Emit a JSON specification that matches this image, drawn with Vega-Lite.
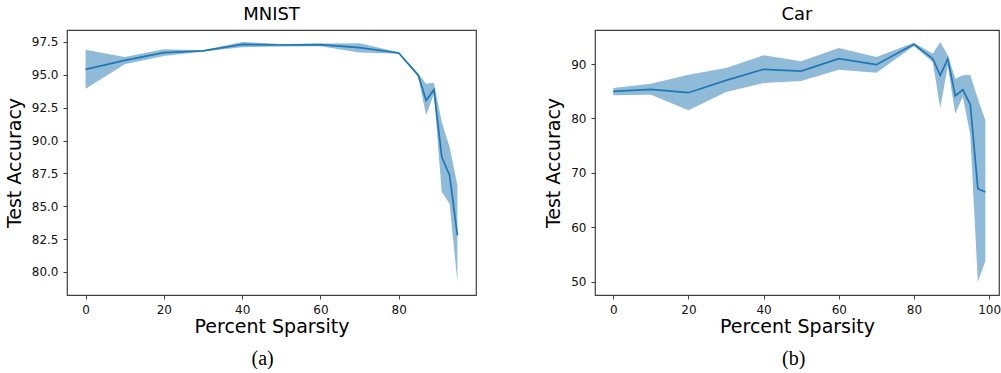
{
  "$schema": "https://vega.github.io/schema/vega-lite/v6.json",
  "padding": {"left": 4, "top": 5, "right": 0, "bottom": 0},
  "background": "white",
  "spacing": 67,
  "datasets": {
    "mnist": [
      {"x": 0, "mean": 95.42, "lo": 93.95, "hi": 96.9},
      {"x": 10, "mean": 96.1, "lo": 95.8, "hi": 96.36},
      {"x": 20, "mean": 96.69, "lo": 96.43, "hi": 96.94},
      {"x": 30, "mean": 96.82, "lo": 96.77, "hi": 96.87},
      {"x": 40, "mean": 97.32, "lo": 97.1, "hi": 97.5},
      {"x": 50, "mean": 97.27, "lo": 97.15, "hi": 97.35},
      {"x": 60, "mean": 97.3, "lo": 97.18, "hi": 97.38},
      {"x": 70, "mean": 97.07, "lo": 96.69, "hi": 97.4},
      {"x": 80, "mean": 96.66, "lo": 96.6, "hi": 96.72},
      {"x": 85, "mean": 94.97, "lo": 94.84, "hi": 95.09},
      {"x": 87, "mean": 93.06, "lo": 91.92, "hi": 94.33},
      {"x": 89, "mean": 93.87, "lo": 93.55, "hi": 94.4},
      {"x": 91, "mean": 88.75, "lo": 86.08, "hi": 91.41},
      {"x": 93, "mean": 87.36, "lo": 85.19, "hi": 89.51},
      {"x": 95, "mean": 82.79, "lo": 79.24, "hi": 86.59}
    ],
    "car": [
      {"x": 0, "mean": 84.98, "lo": 84.25, "hi": 85.59},
      {"x": 10, "mean": 85.35, "lo": 84.36, "hi": 86.38},
      {"x": 20, "mean": 84.73, "lo": 81.49, "hi": 88.03},
      {"x": 30, "mean": 87.0, "lo": 84.85, "hi": 89.26},
      {"x": 40, "mean": 89.03, "lo": 86.51, "hi": 91.6},
      {"x": 50, "mean": 88.71, "lo": 86.88, "hi": 90.49},
      {"x": 60, "mean": 90.98, "lo": 88.96, "hi": 92.94},
      {"x": 70, "mean": 89.88, "lo": 88.41, "hi": 91.29},
      {"x": 80, "mean": 93.62, "lo": 93.3, "hi": 93.9},
      {"x": 85, "mean": 90.98, "lo": 90.37, "hi": 91.9},
      {"x": 87, "mean": 87.92, "lo": 81.91, "hi": 94.04},
      {"x": 89, "mean": 90.98, "lo": 89.6, "hi": 91.6},
      {"x": 91, "mean": 84.12, "lo": 80.87, "hi": 87.3},
      {"x": 93, "mean": 85.28, "lo": 84.0, "hi": 87.92},
      {"x": 95, "mean": 82.53, "lo": 76.9, "hi": 88.0},
      {"x": 97, "mean": 67.09, "lo": 49.94, "hi": 83.6},
      {"x": 99, "mean": 66.48, "lo": 53.8, "hi": 79.65}
    ]
  },
  "config": {
    "font": "DejaVu Sans",
    "view": {"stroke": "#404040", "strokeWidth": 1.2},
    "axis": {
      "grid": false,
      "domain": false,
      "tickColor": "#404040",
      "tickSize": 4,
      "tickWidth": 1,
      "labelFont": "DejaVu Sans",
      "labelFontSize": 12,
      "labelColor": "#111111",
      "labelPadding": 5,
      "labelOverlap": false,
      "titleFont": "DejaVu Sans",
      "titleFontSize": 19,
      "titleFontWeight": "normal",
      "titleColor": "#000000"
    },
    "axisX": {"titlePadding": 2},
    "axisY": {"titlePadding": 7},
    "title": {"font": "DejaVu Sans", "fontSize": 18, "fontWeight": "normal", "color": "#000000", "offset": 6}
  },
  "hconcat": [
    {
      "title": {"text": "(a)", "orient": "bottom", "anchor": "middle", "frame": "bounds", "dx": 22, "font": "Liberation Serif", "fontSize": 20, "offset": 12},
      "vconcat": [
        {
          "title": {"text": "MNIST"},
          "width": 409,
          "height": 265,
          "data": {"name": "mnist"},
          "encoding": {
            "x": {"field": "x", "type": "quantitative", "title": "Percent Sparsity",
              "scale": {"domain": [-4.75, 99.75], "nice": false, "zero": false},
              "axis": {"values": [0, 20, 40, 60, 80]}}
          },
          "layer": [
            {
              "mark": {"type": "area", "color": "#1f77b4", "opacity": 0.5},
              "encoding": {
                "y": {"field": "lo", "type": "quantitative", "title": "Test Accuracy",
                  "scale": {"domain": [78.25, 98.41], "nice": false, "zero": false},
                  "axis": {"values": [80, 82.5, 85, 87.5, 90, 92.5, 95, 97.5], "format": ".1f"}},
                "y2": {"field": "hi"}
              }
            },
            {
              "mark": {"type": "line", "color": "#1f77b4", "strokeWidth": 1.7},
              "encoding": {"y": {"field": "mean", "type": "quantitative", "title": "Test Accuracy",
                  "axis": {"values": [80, 82.5, 85, 87.5, 90, 92.5, 95, 97.5], "format": ".1f"}}}
            }
          ]
        }
      ]
    },
    {
      "title": {"text": "(b)", "orient": "bottom", "anchor": "middle", "frame": "bounds", "dx": 21, "font": "Liberation Serif", "fontSize": 20, "offset": 12},
      "vconcat": [
        {
          "title": {"text": "Car"},
          "width": 404,
          "height": 265,
          "data": {"name": "car"},
          "encoding": {
            "x": {"field": "x", "type": "quantitative", "title": "Percent Sparsity",
              "scale": {"domain": [-4.87, 102.63], "nice": false, "zero": false},
              "axis": {"values": [0, 20, 40, 60, 80, 100]}}
          },
          "layer": [
            {
              "mark": {"type": "area", "color": "#1f77b4", "opacity": 0.5},
              "encoding": {
                "y": {"field": "lo", "type": "quantitative", "title": "Test Accuracy",
                  "scale": {"domain": [47.55, 96.25], "nice": false, "zero": false},
                  "axis": {"values": [50, 60, 70, 80, 90]}},
                "y2": {"field": "hi"}
              }
            },
            {
              "mark": {"type": "line", "color": "#1f77b4", "strokeWidth": 1.7},
              "encoding": {"y": {"field": "mean", "type": "quantitative", "title": "Test Accuracy",
                  "axis": {"values": [50, 60, 70, 80, 90]}}}
            }
          ]
        }
      ]
    }
  ]
}
